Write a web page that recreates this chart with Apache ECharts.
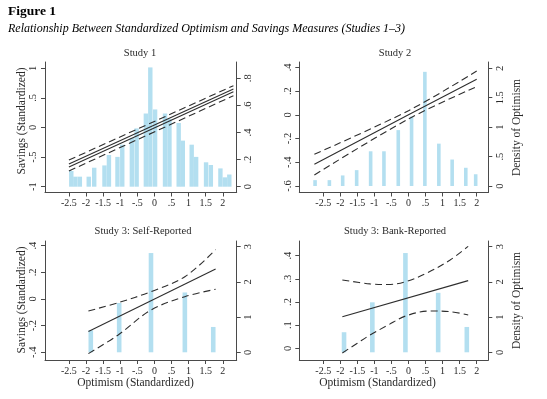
<!DOCTYPE html>
<html>
<head>
<meta charset="utf-8">
<script src="https://cdn.jsdelivr.net/npm/echarts@6/dist/echarts.min.js"></script>
<style>
  html, body { margin: 0; padding: 0; background: #fff; }
  #chart { width: 547px; height: 399px; }
</style>
</head>
<body>
<div id="chart"></div>
<script>
// tick labels
const xTickValues = [-2.5, -2, -1.5, -1, -0.5, 0, 0.5, 1, 1.5, 2];
const s1SavingTicks = [-1, -0.5, 0, 0.5, 1];
const s1DensityTicks = [0, 0.2, 0.4, 0.6, 0.8];
const s2SavingTicks = [-0.6, -0.4, -0.2, 0, 0.2, 0.4];
const s2DensityTicks = [0, 0.5, 1, 1.5, 2];
const s3SavingTicks = [-0.4, -0.2, 0, 0.2, 0.4];
const s3bSavingTicks = [0, 0.1, 0.2, 0.3, 0.4];
const s3DensityTicks = [0, 1, 2, 3];

// Study 1
const s1BinX = [-2.43, -2.31, -2.18, -1.92, -1.76, -1.46, -1.33, -1.08, -0.94, -0.66, -0.52, -0.25, -0.12,
  0.02, 0.31, 0.44, 0.71, 0.83, 1.09, 1.22, 1.51, 1.65, 1.93, 2.06, 2.19];
const s1Density = [0.116, 0.074, 0.074, 0.074, 0.14, 0.157, 0.234, 0.22, 0.31, 0.36, 0.43, 0.54, 0.88,
  0.57, 0.54, 0.50, 0.47, 0.34, 0.31, 0.22, 0.18, 0.16, 0.135, 0.069, 0.09];
const s1LineX = [-2.5, 2.31];
const s1UpperDash = [-0.55, 0.706];
const s1FitA = [-0.617, 0.65];
const s1FitB = [-0.667, 0.605];
const s1LowerDash = [-0.735, 0.537];

// Study 2
const s2BinX = [-2.74, -2.32, -1.93, -1.52, -1.11, -0.72, -0.30, 0.09, 0.48, 0.89, 1.28, 1.68, 1.97];
const s2Density = [0.10, 0.10, 0.18, 0.27, 0.59, 0.59, 0.95, 1.18, 1.94, 0.72, 0.45, 0.31, 0.20];
const s2LineX = [-2.76, 0, 2.0];
const s2Fit = [-0.417, 0.0, 0.30];
const s2Upper = [-0.333, 0.035, 0.369];
const s2Lower = [-0.507, -0.035, 0.237];

// Study 3: self-reported
const s3BinX = [-1.86, -1.03, -0.10, 0.89, 1.72];
const s3Density = [0.625, 1.40, 2.82, 1.70, 0.72];
const s3FitX = [-1.93, 1.79];
const s3Fit = [-0.245, 0.225];
const s3CiX = [-1.93, -1.06, -0.1, 0.89, 1.79];
const s3Upper = [-0.09, -0.028, 0.055, 0.167, 0.37];
const s3Lower = [-0.41, -0.27, -0.083, 0.017, 0.073];

// Study 3: bank-reported
const s3bBinX = [-1.89, -1.06, -0.09, 0.87, 1.71];
const s3bDensity = [0.57, 1.42, 2.82, 1.69, 0.72];
const s3bFitX = [-1.94, 1.75];
const s3bFit = [0.136, 0.292];
const s3bUpperX = [-1.94, -1.13, -0.6, -0.09, 0.53, 1.22, 1.75];
const s3bUpper = [0.295, 0.278, 0.275, 0.287, 0.324, 0.381, 0.44];
const s3bLowerX = [-1.94, -1.5, -1.13, -0.6, -0.09, 0.63, 1.22, 1.75];
const s3bLower = [-0.02, 0.022, 0.057, 0.1, 0.139, 0.161, 0.158, 0.144];

const FONT = '"Liberation Serif", "Times New Roman", serif';
const AXIS_COLOR = '#4a4a4a';
const TEXT_COLOR = '#2a2a2a';
const BAR_COLOR = '#b3dff0';
const LINE_COLOR = '#2e2e2e';

const zip = (xs, ys) => xs.map((x, i) => [x, ys[i]]);
const fmt = v => String(Math.round(v * 100) / 100).replace(/^(-?)0\./, '$1.');

// layout of the 4 panels
const panels = [
  { grid: { left: 45, top: 62, width: 191.7, height: 130.5 }, x: [-3.199, 2.406],
    yL: [-1.098, 1.106], yR: [-0.0428, 0.92], leftTicks: s1SavingTicks, rightTicks: s1DensityTicks },
  { grid: { left: 299.3, top: 62, width: 189, height: 130.5 }, x: [-3.202, 2.34],
    yL: [-0.655, 0.445], yR: [-0.11, 2.107], leftTicks: s2SavingTicks, rightTicks: s2DensityTicks },
  { grid: { left: 45, top: 241, width: 191.7, height: 119 }, x: [-3.199, 2.406],
    yL: [-0.458, 0.435], yR: [-0.219, 3.162], leftTicks: s3SavingTicks, rightTicks: s3DensityTicks },
  { grid: { left: 299.3, top: 241, width: 189, height: 119 }, x: [-3.202, 2.34],
    yL: [-0.0505, 0.463], yR: [-0.219, 3.162], leftTicks: s3bSavingTicks, rightTicks: s3DensityTicks }
];

const axisLine = { show: true, onZero: false, lineStyle: { color: AXIS_COLOR, width: 1 } };
const tick = vals => ({ show: true, length: 4, customValues: vals, lineStyle: { color: AXIS_COLOR } });
const label = (vals, extra) => Object.assign({
  customValues: vals, formatter: fmt, color: TEXT_COLOR, fontFamily: FONT, fontSize: 10
}, extra);

const grids = [], xAxes = [], yAxes = [];
panels.forEach((p, i) => {
  grids.push(Object.assign({ outerBoundsMode: 'none', containLabel: false }, p.grid));
  xAxes.push({
    type: 'value', gridIndex: i, min: p.x[0], max: p.x[1],
    axisLine, axisTick: tick(xTickValues), splitLine: { show: false },
    axisLabel: label(xTickValues, { margin: 6 })
  });
  yAxes.push({
    type: 'value', gridIndex: i, position: 'left', min: p.yL[0], max: p.yL[1],
    axisLine, axisTick: tick(p.leftTicks), splitLine: { show: false },
    axisLabel: label(p.leftTicks, { rotate: 90, margin: 6, fontSize: 10.5 })
  });
  yAxes.push({
    type: 'value', gridIndex: i, position: 'right', min: p.yR[0], max: p.yR[1],
    axisLine, axisTick: tick(p.rightTicks), splitLine: { show: false },
    axisLabel: label(p.rightTicks, { rotate: 90, margin: 6, fontSize: 10.5 })
  });
});

const bars = (i, xs, ys, w) => ({
  type: 'bar', xAxisIndex: i, yAxisIndex: i * 2 + 1, barWidth: w,
  itemStyle: { color: BAR_COLOR }, data: zip(xs, ys), silent: true
});
const line = (i, xs, ys, dashed, smooth) => ({
  type: 'line', xAxisIndex: i, yAxisIndex: i * 2, showSymbol: false, symbol: 'none',
  smooth: smooth ? 0.35 : false, z: 5,
  lineStyle: { color: LINE_COLOR, width: 1.1, type: dashed ? [7, 4] : 'solid' },
  data: zip(xs, ys), silent: true
});

const series = [
  bars(0, s1BinX, s1Density, 4.4),
  line(0, s1LineX, s1UpperDash, true),
  line(0, s1LineX, s1FitA, false),
  line(0, s1LineX, s1FitB, false),
  line(0, s1LineX, s1LowerDash, true),

  bars(1, s2BinX, s2Density, 3.6),
  line(1, s2LineX, s2Upper, true, true),
  line(1, s2LineX, s2Fit, false),
  line(1, s2LineX, s2Lower, true, true),

  bars(2, s3BinX, s3Density, 4.6),
  line(2, s3CiX, s3Upper, true, true),
  line(2, s3FitX, s3Fit, false),
  line(2, s3CiX, s3Lower, true, true),

  bars(3, s3bBinX, s3bDensity, 4.6),
  line(3, s3bUpperX, s3bUpper, true, true),
  line(3, s3bFitX, s3bFit, false),
  line(3, s3bLowerX, s3bLower, true, true)
];

const txt = (text, x, y, size, opts) => Object.assign({
  type: 'text', x, y, silent: true,
  style: Object.assign({
    text, font: size + 'px ' + FONT, fill: TEXT_COLOR, align: 'center', verticalAlign: 'middle'
  }, (opts && opts.style) || {})
}, (opts && opts.el) || {});

const graphic = [
  txt('Figure 1', 8, 12, 13.5, { style: { font: 'bold 13.5px ' + FONT, align: 'left', fill: '#000' } }),
  txt('Relationship Between Standardized Optimism and Savings Measures (Studies 1\u20133)', 8, 29, 12,
    { style: { font: 'italic 12px ' + FONT, align: 'left', fill: '#000' } }),
  txt('Study 1', 140, 53, 10.5),
  txt('Study 2', 395, 53, 10.5),
  txt('Study 3: Self-Reported', 143, 231, 10.5),
  txt('Study 3: Bank-Reported', 395, 231, 10.5),
  txt('Savings (Standardized)', 22, 121, 11.5, { el: { rotation: Math.PI / 2 } }),
  txt('Savings (Standardized)', 22, 300, 11.5, { el: { rotation: Math.PI / 2 } }),
  txt('Density of Optimism', 516.5, 127.5, 11.5, { el: { rotation: Math.PI / 2 } }),
  txt('Density of Optimism', 516.5, 300.5, 11.5, { el: { rotation: Math.PI / 2 } }),
  txt('Optimism (Standardized)', 135.5, 383, 11.5),
  txt('Optimism (Standardized)', 377.5, 383, 11.5)
];

const chart = echarts.init(document.getElementById('chart'), null, { renderer: 'canvas' });
chart.setOption({
  animation: false,
  backgroundColor: '#fff',
  grid: grids,
  xAxis: xAxes,
  yAxis: yAxes,
  series,
  graphic
});
</script>
</body>
</html>
